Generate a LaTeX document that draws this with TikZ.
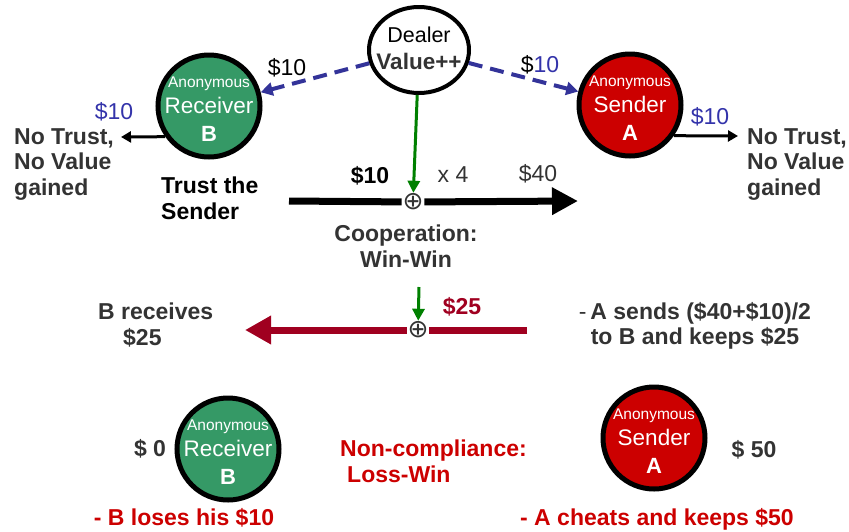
\documentclass[tikz,border=0pt]{standalone}
\usepackage{fontspec}
\setmainfont{Liberation Sans}
\newfontfamily\djv{DejaVu Sans}
\usetikzlibrary{arrows.meta,shapes.geometric}
\definecolor{grnfill}{RGB}{53,153,102}
\definecolor{redfill}{RGB}{204,0,0}
\definecolor{dashblue}{RGB}{51,51,153}
\definecolor{labblue}{RGB}{51,51,170}
\definecolor{flowred}{RGB}{160,0,32}
\definecolor{txtred}{RGB}{204,0,0}
\definecolor{txtgray}{RGB}{51,51,51}
\definecolor{arrgreen}{RGB}{0,128,0}
\newcommand{\party}[2]{\fontsize{15.5}{15.5}\selectfont Anonymous\\[6pt]\fontsize{22.5}{22.5}\selectfont #1\\[11pt]\fontsize{22}{22}\selectfont\bfseries #2}

\begin{document}
\begin{tikzpicture}[x=1pt,y=-1pt,
  txt/.style={font=\fontsize{23}{25.5}\selectfont,text=txtgray,inner sep=0pt},
  btxt/.style={font=\fontsize{23}{25.5}\selectfont\bfseries,text=txtgray,inner sep=0pt},
  rtxt/.style={font=\fontsize{23}{25.5}\selectfont\bfseries,text=txtred,inner sep=0pt},
  ball/.style={circle,draw=black,line width=5pt,minimum size=102pt,inner sep=0pt},
  rcv/.style={ball,fill=grnfill},
  snd/.style={ball,fill=redfill},
  intxt/.style={text=white,align=center,inner sep=0pt,yshift=-3pt},
  dsh/.style={draw=dashblue,line width=4pt,dash pattern=on 14pt off 8pt,
    -{Triangle[length=12pt,width=13pt]}},
  garr/.style={draw=arrgreen,line width=3pt,-{Triangle[length=12pt,width=12pt]}},
  karr/.style={draw=black,line width=3pt,-{Triangle[length=10pt,width=11pt]}},
  thk/.style={draw=black,line width=7pt},
  rdl/.style={draw=flowred,line width=7pt},
  plus/.style={font=\djv\fontsize{25}{25}\selectfont,text=txtgray,inner sep=0pt,outer sep=1pt}]
  \useasboundingbox (0,0) rectangle (849,531);

  \node[ellipse,draw=black,line width=4pt,fill=white,minimum width=100pt,minimum height=86pt,inner sep=0pt,
    label={[align=center,inner sep=0pt,yshift=2pt,font=\fontsize{21.5}{27}\selectfont]center:{Dealer\\\textcolor{txtgray}{\fontsize{22.5}{27}\selectfont\bfseries Value++}}}] (0) at (419,50) {};
  \node[rcv,label={[intxt]center:{\party{Receiver}{B}}}] (1) at (209,106) {};
  \node[snd,label={[intxt]center:{\party{Sender}{A}}}] (2) at (630,105) {};
  \node[rcv,label={[intxt]center:{\party{Receiver}{B}}}] (3) at (228,449) {};
  \node[snd,label={[intxt]center:{\party{Sender}{A}}}] (4) at (654,438) {};

  \node[txt,text=black] (5) at (287,68) {\$10};
  \node[txt,text=black] (6) at (540,65) {\$\textcolor{labblue}{10}};
  \node[txt,text=labblue] (7) at (114,112) {\$10};
  \node[txt,text=labblue] (8) at (710,117) {\$10};
  \node[btxt,align=left,anchor=north west] (9) at (14,128) {No Trust,\\No Value\\gained};
  \node[btxt,align=left,anchor=north west] (10) at (747,128) {No Trust,\\No Value\\gained};
  \node[btxt,text=black,align=left,anchor=north west] (11) at (161,177) {Trust the\\Sender};
  \node[btxt,text=black] (12) at (370,176) {\$10};
  \node[txt] (13) at (453,175) {x 4};
  \node[txt] (14) at (538,174) {\$40};
  \node[btxt,align=center,anchor=north] (15) at (406,225) {Cooperation:\\Win-Win};
  \node[btxt,align=left,anchor=north west] (16) at (98,303) {B receives\\\hspace*{25pt}\$25};
  \node[rtxt,text=flowred] (17) at (462,307) {\$25};
  \node[btxt,align=center,anchor=north] (18) at (695,302) {\mdseries-\,\bfseries A sends (\$40+\$10)/2\\to B and keeps \$25};
  \node[btxt] (19) at (150,449) {\$ 0};
  \node[rtxt,align=left,anchor=north west] (20) at (340,440) {Non-compliance:\\\hspace*{7pt}Loss-Win};
  \node[btxt] (21) at (754,450) {\$ 50};
  \node[rtxt,anchor=base] (22) at (184,525) {- B loses his \$10};
  \node[rtxt,anchor=base] (23) at (657,525) {- A cheats and keeps \$50};

  \node[plus] (p1) at (413,202) {⊕};
  \node[plus] (p2) at (418,330) {⊕};
  \coordinate (c1) at (289,201);
  \coordinate (c2) at (578,201);
  \coordinate (c3) at (419,287);
  \coordinate (c4) at (527,330);
  \coordinate (c5) at (245,330);
  \coordinate (e1) at (121,137);
  \coordinate (e2) at (738,136);

  \draw[dsh] (0) -- (1);
  \draw[dsh] (0) -- (2);
  \draw[karr] (1.215) -- (e1);
  \draw[karr] (2.325) -- (e2);
  \draw[garr] (0) -- (p1);
  \draw[thk] (c1) -- (p1);
  \draw[thk,-{Triangle[length=26pt,width=26pt]}] (p1) -- (c2);
  \draw[garr] (c3) -- (p2);
  \draw[rdl] (c4) -- (p2);
  \draw[rdl,-{Triangle[length=26pt,width=27pt]}] (p2) -- (c5);
\end{tikzpicture}
\end{document}
